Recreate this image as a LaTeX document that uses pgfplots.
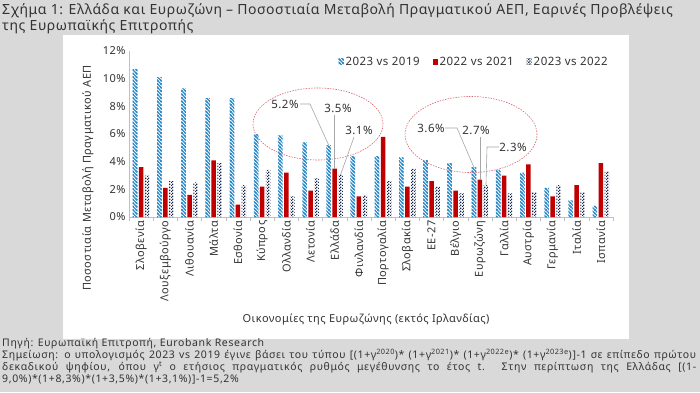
\documentclass[border=0pt]{standalone}
\usepackage{pgfplots}
\pgfplotsset{compat=1.18}
\usepackage{fontspec}
\setmainfont{Noto Sans}
\newfontfamily\wide[LetterSpace=4]{Noto Sans}
\newfontfamily\wider[LetterSpace=6]{Noto Sans}
\usetikzlibrary{patterns}
\definecolor{bg}{HTML}{D9D9D9}
\definecolor{txt}{HTML}{333333}
\definecolor{hblue}{HTML}{2E8BC9}
\definecolor{dred}{HTML}{C00000}
\definecolor{navy}{HTML}{14264A}
\definecolor{axgray}{HTML}{BFBFBF}
\definecolor{ellred}{HTML}{D9666F}
\definecolor{lgray}{HTML}{A6A6A6}
\pgfdeclarepatternformonly{mystripes}{\pgfpoint{-1pt}{-1pt}}{\pgfpoint{4.5pt}{4.5pt}}{\pgfpoint{3.5pt}{3.5pt}}{%
  \pgfsetlinewidth{1.3pt}%
  \pgfpathmoveto{\pgfpoint{-0.5pt}{4pt}}%
  \pgfpathlineto{\pgfpoint{4pt}{-0.5pt}}%
  \pgfpathmoveto{\pgfpoint{-0.5pt}{0.5pt}}%
  \pgfpathlineto{\pgfpoint{0.5pt}{-0.5pt}}%
  \pgfpathmoveto{\pgfpoint{3pt}{4pt}}%
  \pgfpathlineto{\pgfpoint{4pt}{3pt}}%
  \pgfusepath{stroke}}
\pgfdeclarepatternformonly{mycheck}{\pgfpointorigin}{\pgfpoint{3pt}{3pt}}{\pgfpoint{3pt}{3pt}}{%
  \pgfpathrectangle{\pgfpointorigin}{\pgfpoint{1.5pt}{1.5pt}}%
  \pgfpathrectangle{\pgfpoint{1.5pt}{1.5pt}}{\pgfpoint{1.5pt}{1.5pt}}%
  \pgfusepath{fill}}
\pgfplotstableread{
idx a b c
0 10.7 3.6 3.0
1 10.1 2.1 2.6
2 9.3 1.6 2.5
3 8.6 4.1 3.9
4 8.6 0.9 2.3
5 6.0 2.2 3.4
6 5.9 3.2 1.5
7 5.4 1.9 2.8
8 5.2 3.5 3.1
9 4.4 1.5 1.6
10 4.4 5.8 2.6
11 4.3 2.2 3.5
12 4.1 2.6 2.2
13 3.9 1.9 1.7
14 3.6 2.7 2.3
15 3.4 3.0 1.7
16 3.2 3.8 1.8
17 2.1 1.5 2.3
18 1.2 2.3 1.8
19 0.8 3.9 3.3
}\datatable
\begin{document}
\begin{tikzpicture}[x=1pt,y=1pt]
\fill[bg] (0,0) rectangle (700,392);
\useasboundingbox (0,0) rectangle (700,392);
\fill[white] (63,53) rectangle (629,357);
\node[anchor=north west, inner sep=0pt, align=left, text=txt,
  font=\wide\fontsize{14}{16}\selectfont] at (2,389)
  {Σχήμα 1: Ελλάδα και Ευρωζώνη – Ποσοστιαία Μεταβολή Πραγματικού ΑΕΠ, Εαρινές Προβλέψεις\\της Ευρωπαϊκής Επιτροπής};
\begin{axis}[
  at={(129pt,175pt)}, anchor=south west,
  scale only axis, width=484pt, height=166pt,
  xmin=-0.5, xmax=19.5, ymin=0, ymax=12,
  axis x line*=bottom, axis y line*=left,
  axis line style={axgray, -, line width=0.8pt},
  ytick={0,2,...,12},
  yticklabel={\pgfmathprintnumber{\tick}\%},
  /pgf/number format/assume math mode=true,
  xtick={0,...,19},
  xticklabels={Σλοβενία, Λουξεμβούργο, Λιθουανία, Μάλτα, Εσθονία, Κύπρος, Ολλανδία, Λετονία, Ελλάδα, Φινλανδία, Πορτογαλία, Σλοβακία, ΕΕ-27, Βέλγιο, Ευρωζώνη, Γαλλία, Αυστρία, Γερμανία, Ιταλία, Ισπανία},
  minor xtick={-0.5,0.5,...,19.5},
  major tick length=0pt, minor tick length=4pt, tick align=outside,
  minor tick style={axgray, line width=0.6pt},
  x tick label style={rotate=90, anchor=east, font=\wide\fontsize{11}{12}\selectfont, text=txt},
  y tick label style={font=\wide\fontsize{11}{12}\selectfont, text=txt},
  ybar=1.5pt, bar width=4.5pt,
  legend columns=3,
  legend style={draw=none, fill=none, at={(1.0,0.99)}, anchor=north east,
    font=\wide\fontsize{11.5}{13}\selectfont, text=txt,
    /tikz/every even column/.append style={column sep=11pt}},
  legend image code/.code={\fill[#1] (0pt,-3pt) rectangle (5pt,3pt);},
]
\addplot[draw=none, pattern=mystripes, pattern color=hblue] table[x=idx, y=a] {\datatable};
\addlegendentry{2023 vs 2019}
\addplot[draw=none, fill=dred] table[x=idx, y=b] {\datatable};
\addlegendentry{2022 vs 2021}
\addplot[draw=none, pattern=mycheck, pattern color=navy] table[x=idx, y=c] {\datatable};
\addlegendentry{2023 vs 2022}
\coordinate (gb) at (axis cs:7.75,5.2);
\coordinate (gr) at (axis cs:8,3.5);
\coordinate (gc) at (axis cs:8.25,3.1);
\coordinate (eb) at (axis cs:13.75,3.6);
\coordinate (er) at (axis cs:14,2.7);
\coordinate (ec) at (axis cs:14.25,2.3);
\end{axis}
\node[rotate=90, text=txt, font=\wide\fontsize{11}{13}\selectfont] at (88,214) {Ποσοστιαία Μεταβολή Πραγματικού ΑΕΠ};
\node[text=txt, font=\wide\fontsize{11}{12}\selectfont] at (366,72) {Οικονομίες της Ευρωζώνης (εκτός Ιρλανδίας)};
% ellipses
\draw[ellred, dash pattern=on 1.5pt off 1.2pt, line width=0.6pt] (318,268) ellipse [x radius=65, y radius=36];
\draw[ellred, dash pattern=on 1.5pt off 1.2pt, line width=0.6pt] (471,257.5) ellipse [x radius=66, y radius=38];
% labels and leaders
\begin{scope}[text=txt, font=\wide\fontsize{11.5}{13}\selectfont]
\node at (285,288) {5.2\%};
\node at (338,284) {3.5\%};
\node at (359,262) {3.1\%};
\node at (431,264) {3.6\%};
\node at (476,262) {2.7\%};
\node at (513,245) {2.3\%};
\end{scope}
\begin{scope}[lgray, line width=0.6pt]
\draw (300,288) -- (310,288) -- (gb);
\draw (gr|-0,277) -- (gr);
\draw (354,255) -- (gc);
\draw (445,264) -- (457,264) -- (eb);
\draw (er|-0,255) -- (er);
\draw (499,245) -- (487,245) -- (ec);
\end{scope}
\node[anchor=north west, inner sep=0pt, text width=694pt, align=justify, text=txt,
  font=\wider\fontsize{10.5}{12}\selectfont] at (2,54)
  {Πηγή: Ευρωπαϊκή Επιτροπή, Eurobank Research\\
  Σημείωση: ο υπολογισμός 2023 vs 2019 έγινε βάσει του τύπου [(1+γ\textsuperscript{2020})* (1+γ\textsuperscript{2021})* (1+γ\textsuperscript{2022e})* (1+γ\textsuperscript{2023e})]-1 σε επίπεδο πρώτου\linebreak
  δεκαδικού ψηφίου, όπου γ\textsuperscript{t} ο ετήσιος πραγματικός ρυθμός μεγέθυνσης το έτος t. Στην περίπτωση της Ελλάδας [(1-\linebreak
  9,0\%)*(1+8,3\%)*(1+3,5\%)*(1+3,1\%)]-1=5,2\%};
\end{tikzpicture}
\end{document}
